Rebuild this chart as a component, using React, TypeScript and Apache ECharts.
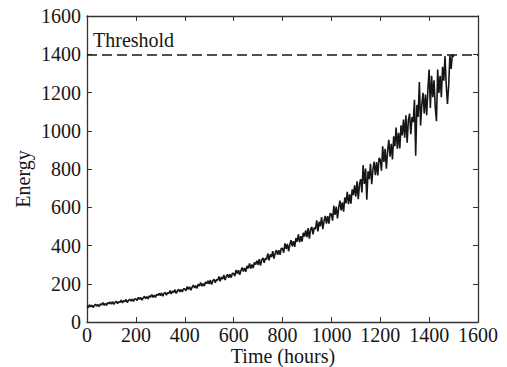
import React, { useEffect, useRef } from "react";
import * as echarts from "echarts";

// Sampling interval of the energy series (hours)
const TIME_STEP = 5;

// Energy, one value every 5 hours from 0 to 1500
const energy: number[] = [
  // 0-95
  82, 75, 90, 80, 88, 76, 86, 93, 83, 91, 81, 95, 89, 101, 87, 97, 87, 102, 95, 105,
  // 100-195
  94, 106, 92, 104, 107, 97, 106, 103, 115, 100, 112, 106, 118, 102, 113, 119, 109, 119, 108, 121,
  // 200-295
  120, 112, 129, 119, 128, 114, 126, 134, 123, 132, 121, 137, 130, 144, 129, 140, 129, 145, 139, 150,
  // 300-395
  138, 152, 135, 150, 154, 141, 153, 150, 164, 146, 162, 154, 169, 149, 163, 171, 158, 170, 157, 174,
  // 400-495
  173, 163, 185, 171, 184, 166, 182, 193, 178, 190, 176, 197, 188, 206, 187, 201, 188, 209, 200, 215,
  // 500-595
  199, 219, 196, 216, 223, 206, 222, 218, 238, 213, 235, 225, 246, 219, 238, 249, 232, 249, 232, 255,
  // 600-695
  254, 240, 272, 253, 271, 247, 269, 285, 264, 282, 263, 293, 281, 306, 280, 301, 282, 312, 300, 321,
  // 700-795
  299, 329, 295, 325, 335, 310, 333, 328, 358, 322, 354, 340, 370, 332, 359, 376, 351, 376, 351, 386,
  // 800-895
  384, 362, 411, 382, 408, 370, 405, 428, 396, 422, 393, 439, 420, 458, 417, 449, 420, 466, 447, 479,
  // 900-995
  444, 491, 436, 483, 498, 458, 494, 485, 532, 474, 524, 501, 548, 486, 529, 555, 515, 554, 514, 568,
  // 1000-1095
  564, 530, 608, 560, 603, 541, 597, 635, 583, 625, 577, 651, 621, 681, 616, 667, 619, 693, 663, 714,
  // 1100-1195
  656, 736, 642, 721, 747, 677, 820, 722, 802, 640, 788, 747, 827, 721, 795, 838, 768, 836, 766, 857,
  // 1200-1295
  850, 791, 919, 837, 906, 801, 892, 953, 864, 932, 850, 971, 919, 1017, 906, 989, 907, 1028, 976, 1059,
  // 1300-1395
  964, 1081, 937, 1054, 1090, 982, 1072, 1045, 1162, 870, 1135, 1072, 1255, 1027, 1135, 1198, 1090, 1189, 1081, 1216,
  // 1400-1495
  1320, 1119, 1287, 1176, 1264, 1123, 1050, 1320, 1198, 1287, 1175, 1334, 1262, 1390, 1239, 1140, 1236, 1395, 1323, 1400,
  // 1500
  1385,
];

const THRESHOLD = 1400;
const THRESHOLD_LABEL = "Threshold";
const X_NAME = "Time (hours)";
const Y_NAME = "Energy";
const AXIS_MIN = 0;
const AXIS_MAX = 1600;
const AXIS_INTERVAL = 200;

const FONT = "'Liberation Serif', 'Times New Roman', serif";
const INK = "#161616";

export default function App() {
  const ref = useRef<HTMLDivElement>(null);

  useEffect(() => {
    if (!ref.current) return;
    const chart = echarts.init(ref.current, undefined, { renderer: "svg" });

    const seriesData = energy.map((v, i) => [i * TIME_STEP, v]);

    const axisLine = { show: true, onZero: false, lineStyle: { color: "#333", width: 1.3 } };
    const axisTick = { show: true, inside: true, length: 5, lineStyle: { color: "#333", width: 1 } };
    const axisLabel = {
      color: INK,
      fontSize: 20,
      fontFamily: FONT,
      formatter: (v: number) => String(v),
    };

    const common = {
      type: "value",
      min: AXIS_MIN,
      max: AXIS_MAX,
      interval: AXIS_INTERVAL,
      axisLine,
      axisTick,
      splitLine: { show: false },
    };

    chart.setOption({
      animation: false,
      backgroundColor: "#fff",
      grid: { left: 87, right: 29, top: 16, bottom: 45, containLabel: false },
      xAxis: [
        { ...common, position: "bottom", axisLabel: { ...axisLabel, margin: 3 } },
        { ...common, position: "top", axisLabel: { show: false } },
      ],
      yAxis: [
        { ...common, position: "left", axisLabel: { ...axisLabel, margin: 6 } },
        { ...common, position: "right", axisLabel: { show: false } },
      ],
      series: [
        {
          type: "line",
          data: seriesData,
          showSymbol: false,
          symbol: "none",
          lineStyle: { color: INK, width: 1.6 },
          markLine: {
            silent: true,
            symbol: "none",
            label: { show: false },
            lineStyle: { color: INK, width: 1.5, type: [10, 5] },
            data: [{ yAxis: THRESHOLD }],
          },
        },
      ],
      graphic: [
        {
          type: "text",
          x: 93,
          y: 40,
          style: {
            text: THRESHOLD_LABEL,
            fill: INK,
            font: `20px ${FONT}`,
            textAlign: "left",
            textVerticalAlign: "middle",
          },
        },
        {
          type: "text",
          x: 283,
          y: 356,
          style: {
            text: X_NAME,
            fill: INK,
            font: `20px ${FONT}`,
            textAlign: "center",
            textVerticalAlign: "middle",
          },
        },
        {
          type: "text",
          x: 23,
          y: 179,
          rotation: Math.PI / 2,
          style: {
            text: Y_NAME,
            fill: INK,
            font: `20px ${FONT}`,
            textAlign: "center",
            textVerticalAlign: "middle",
          },
        },
      ],
    });

    return () => chart.dispose();
  }, []);

  return <div ref={ref} style={{ width: 507, height: 367, position: "absolute", left: 0, top: 0 }} />;
}
